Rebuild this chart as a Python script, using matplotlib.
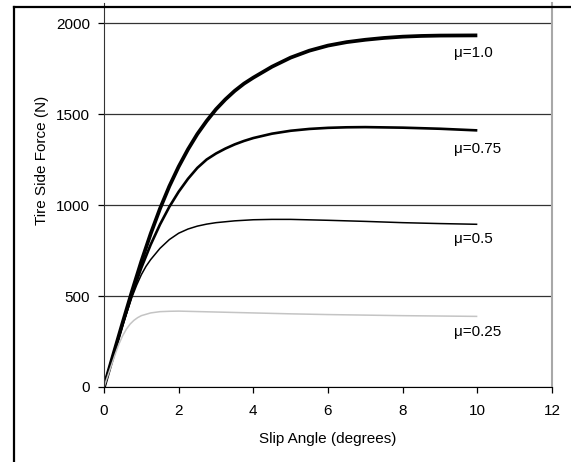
import matplotlib
matplotlib.use("Agg")
import matplotlib.pyplot as plt
from matplotlib.lines import Line2D

plt.rcParams["font.family"] = ["Liberation Sans", "DejaVu Sans"]

# slip angle (degrees) and side force (N)
slip_10 = [0, 0.25, 0.5, 0.75, 1.0, 1.25, 1.5, 1.75, 2.0, 2.25, 2.5, 2.75,
           3.0, 3.25, 3.5, 3.75, 4.0, 4.5, 5.0, 5.5, 6.0, 6.5, 7.0, 7.5,
           8.0, 8.5, 9.0, 10.0]
force_10 = [0, 178, 354, 526, 690, 842, 980, 1103, 1211, 1306, 1390, 1462,
            1526, 1580, 1627, 1667, 1700, 1760, 1810, 1848, 1876, 1895, 1908,
            1918, 1925, 1929, 1931, 1932]

slip_075 = [0, 0.25, 0.5, 0.75, 1.0, 1.25, 1.5, 1.75, 2.0, 2.25, 2.5, 2.75,
            3.0, 3.25, 3.5, 3.75, 4.0, 4.5, 5.0, 5.5, 6.0, 6.5, 7.0, 8.0,
            9.0, 10.0]
force_075 = [0, 175, 347, 510, 655, 782, 893, 990, 1073, 1144, 1204, 1250,
             1283, 1310, 1333, 1352, 1368, 1392, 1408, 1418, 1424, 1427, 1428,
             1425, 1419, 1410]

slip_05 = [0, 0.25, 0.5, 0.75, 0.875, 1.0, 1.125, 1.25, 1.5, 1.75, 2.0, 2.25,
           2.5, 2.75, 3.0, 3.5, 4.0, 4.5, 5.0, 6.0, 7.0, 8.0, 9.0, 10.0]
force_05 = [0, 170, 338, 495, 560, 617, 663, 700, 762, 810, 845, 868,
            884, 895, 903, 913, 919, 921, 921, 916, 910, 903, 898, 894]

slip_025 = [0, 0.1, 0.2, 0.3, 0.4, 0.5, 0.6, 0.7, 0.8, 0.9, 1.0, 1.25, 1.5,
            1.75, 2.0, 3.0, 4.0, 5.0, 6.0, 7.0, 8.0, 9.0, 10.0]
force_025 = [0, 60, 120, 180, 236, 282, 318, 346, 366, 381, 392, 407, 414,
             416, 417, 412, 407, 402, 398, 395, 392, 390, 388]

labels = ["\u03bc=1.0", "\u03bc=0.75", "\u03bc=0.5", "\u03bc=0.25"]
label_y = [1835, 1310, 813, 302]

fig = plt.figure(figsize=(5.71, 4.62), dpi=100)
ax = fig.add_axes([104 / 571, 1 - 387 / 462, 448 / 571, 384 / 462])

ax.plot(slip_10, force_10, color="black", lw=2.7, solid_capstyle="butt",
        solid_joinstyle="round")
ax.plot(slip_075, force_075, color="black", lw=1.9, solid_capstyle="butt",
        solid_joinstyle="round")
ax.plot(slip_05, force_05, color="black", lw=1.1, solid_capstyle="butt",
        solid_joinstyle="round")
ax.plot(slip_025, force_025, color="#c4c4c4", lw=1.1, solid_capstyle="butt",
        solid_joinstyle="round")

for text, y in zip(labels, label_y):
    ax.text(9.375, y, text, fontsize=11, ha="left", va="center")

ax.set_xlim(0, 12)
ax.set_ylim(0, 2110)
ax.set_xticks(range(0, 13, 2))
ax.set_yticks([0, 500, 1000, 1500, 2000])
ax.yaxis.grid(True, color="#333333", lw=0.9)
ax.set_axisbelow(True)

ax.spines["top"].set_visible(False)
ax.spines["right"].set_color("#a8a8a8")
ax.spines["right"].set_linewidth(1.5)
ax.spines["left"].set_color("#333333")
ax.spines["bottom"].set_color("black")
ax.tick_params(axis="both", direction="out", length=4, width=0.9,
               labelsize=11, colors="black")
ax.tick_params(axis="x", pad=8)
ax.tick_params(axis="y", pad=6)

ax.set_xlabel("Slip Angle (degrees)", fontsize=11)
ax.set_ylabel("Tire Side Force (N)", fontsize=11)
ax.xaxis.label.set_va("center")
ax.yaxis.label.set_va("center")
ax.xaxis.set_label_coords(0.5, (387 - 439) / 384)
ax.yaxis.set_label_coords((42 - 104) / 448, (387 - 160) / 384)

# outer chart frame (cut off at right and bottom)
fx = 14 / 571
fy = 1 - 7 / 462
fig.add_artist(Line2D([fx, fx], [0, fy], transform=fig.transFigure,
                      color="black", lw=1.6))
fig.add_artist(Line2D([fx, 1], [fy, fy], transform=fig.transFigure,
                      color="black", lw=1.6))

fig.savefig("out.png", dpi=100)
